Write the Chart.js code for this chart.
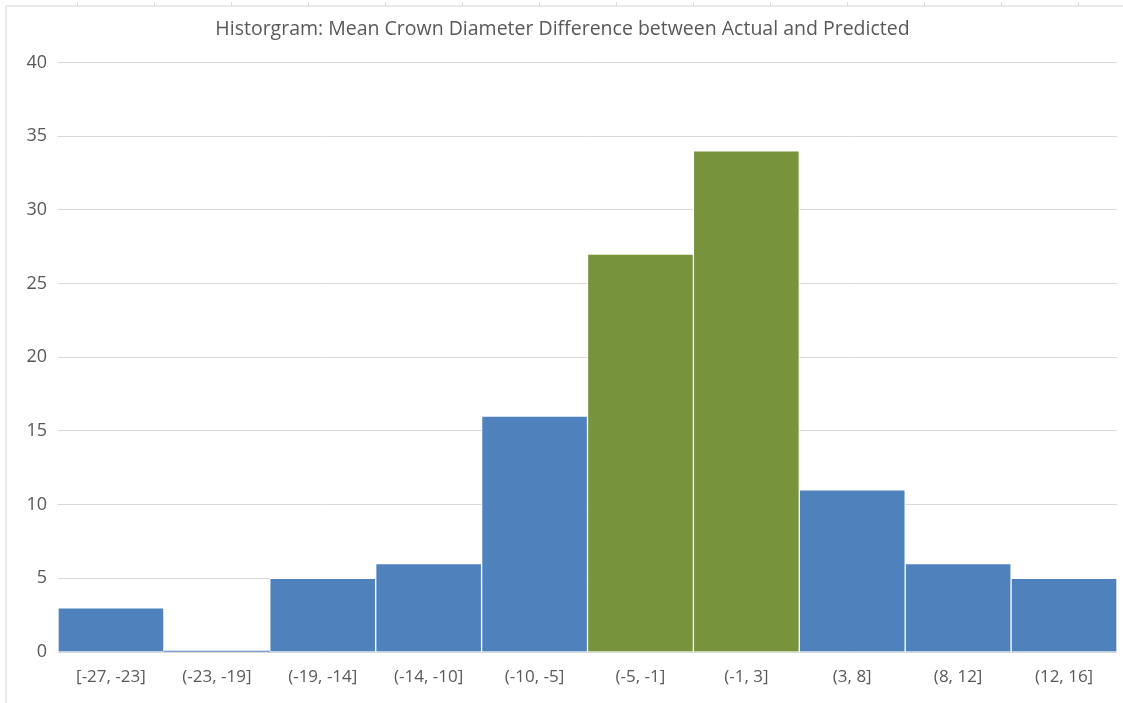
<!DOCTYPE html>
<html>
<head>
<meta charset="utf-8">
<script src="https://cdn.jsdelivr.net/npm/chart.js@4.4.1/dist/chart.umd.min.js"></script>
<style>
  html, body { margin: 0; padding: 0; background: #ffffff; }
  #wrap { width: 1123px; height: 703px; position: relative; }
</style>
</head>
<body>
<div id="wrap"><canvas id="chart" width="1123" height="703"></canvas></div>
<script>
// Bin labels for the crown diameter differences
const binLabels = ['[-27, -23]', '(-23, -19]', '(-19, -14]', '(-14, -10]', '(-10, -5]',
                   '(-5, -1]', '(-1, 3]', '(3, 8]', '(8, 12]', '(12, 16]'];
// Count of trees in each bin
const binCounts = [3, 0, 5, 6, 16, 27, 34, 11, 6, 5];
// Bins around zero are highlighted
const highlightBins = ['(-5, -1]', '(-1, 3]'];
// Y axis tick values
const yTicks = [0, 5, 10, 15, 20, 25, 30, 35, 40];

const BLUE = '#4F81BD';
const GREEN = '#77933C';
const TEXT = '#595959';

const barColors = binLabels.map(l => highlightBins.includes(l) ? GREEN : BLUE);
const borderWidths = binCounts.map(v => v === 0 ? 0 : 1);

// Light worksheet frame behind the chart
const framePlugin = {
  id: 'frame',
  beforeDraw(chart) {
    const ctx = chart.ctx;
    ctx.save();
    ctx.strokeStyle = '#e3e3e3';
    ctx.lineWidth = 1.5;
    ctx.beginPath();
    ctx.moveTo(6, 6); ctx.lineTo(1123, 6);
    ctx.moveTo(6, 6); ctx.lineTo(6, 703);
    ctx.stroke();
    ctx.lineWidth = 1;
    ctx.strokeStyle = '#dcdcdc';
    ctx.beginPath();
    for (let x = 77; x < 1123; x += 77) {
      ctx.moveTo(x + 0.5, 2); ctx.lineTo(x + 0.5, 6);
    }
    ctx.stroke();
    ctx.restore();
  }
};

new Chart(document.getElementById('chart'), {
  type: 'bar',
  data: {
    labels: binLabels,
    datasets: [{
      data: binCounts,
      backgroundColor: barColors,
      borderColor: '#ffffff',
      borderWidth: borderWidths,
      borderSkipped: 'bottom',
      minBarLength: 1,
      categoryPercentage: 1.0,
      barPercentage: 1.0
    }]
  },
  options: {
    responsive: false,
    animation: false,
    devicePixelRatio: 1,
    layout: { padding: { left: 8, right: 6, top: 0, bottom: 0 } },
    plugins: {
      legend: { display: false },
      tooltip: { enabled: false },
      title: {
        display: true,
        text: 'Historgram: Mean Crown Diameter Difference between Actual and Predicted',
        color: TEXT,
        font: { family: 'Open Sans', size: 19.5, weight: 'normal' },
        padding: { top: 18, bottom: 21 }
      }
    },
    scales: {
      x: {
        grid: { display: false, drawTicks: false },
        border: { display: false },
        ticks: {
          color: TEXT,
          font: { family: 'Open Sans', size: 17 },
          padding: 15,
          maxRotation: 0,
          autoSkip: false
        },
        afterFit(s) { s.height = 51; }
      },
      y: {
        min: 0,
        max: 40,
        afterBuildTicks(s) { s.ticks = yTicks.map(v => ({ value: v })); },
        grid: { color: '#d9d9d9', lineWidth: 1, drawTicks: false },
        border: { display: false },
        ticks: {
          color: TEXT,
          font: { family: 'Open Sans', size: 18 },
          padding: 11
        },
        afterFit(s) { s.width = 50; }
      }
    }
  },
  plugins: [framePlugin]
});
</script>
</body>
</html>
